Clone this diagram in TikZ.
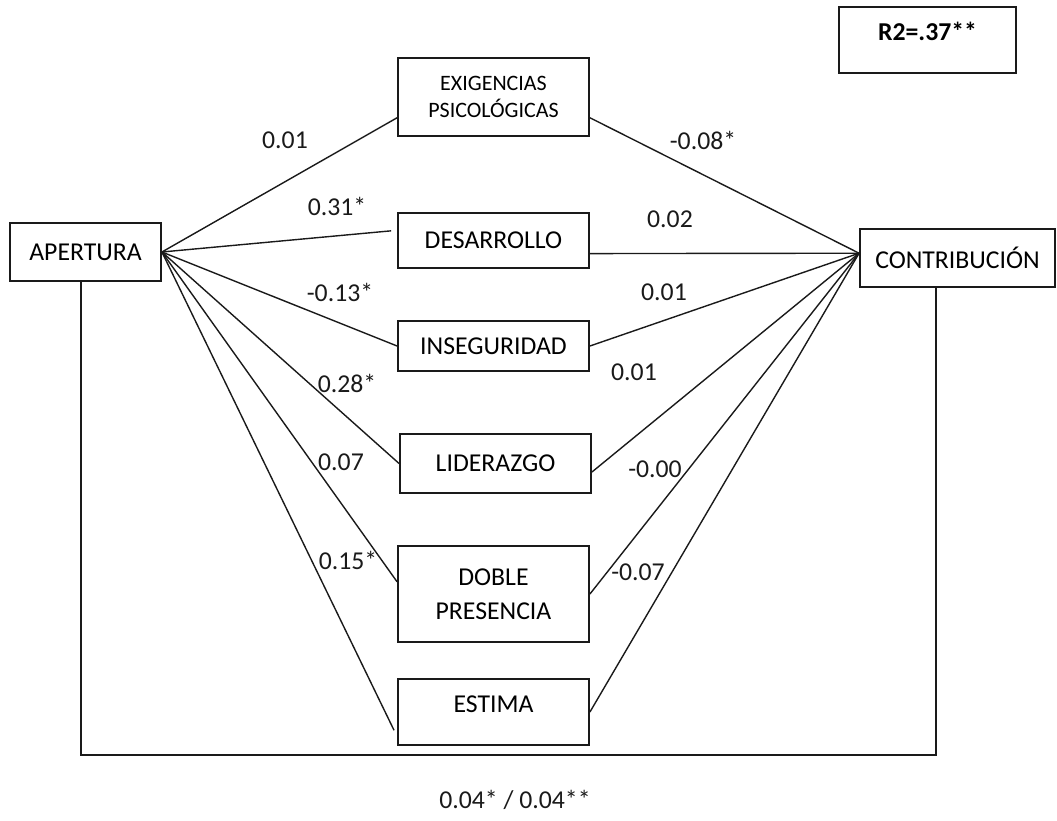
\documentclass[tikz,border=0pt]{standalone}
\usepackage{fontspec}
\setmainfont{Carlito}
\usepackage{tikz}
\usetikzlibrary{calc}
\definecolor{pathInk}{HTML}{1A1A1A}

\begin{document}
\begin{tikzpicture}[x=0.75pt,y=-0.75pt,font=\fontsize{19.3}{23}\selectfont,
  var/.style={draw=pathInk,line width=1.4pt,minimum width=143.25pt,align=center,inner sep=2pt},
  coef/.style={inner sep=1pt,text=pathInk},
  path/.style={draw=pathInk,line width=1.05pt}
]
  \useasboundingbox (0,0) rectangle (1057,821);

  % outer variables
  \node[var,minimum width=113.25pt,minimum height=43.5pt] (apertura) at (85.5,252) {APERTURA};
  \node[var,minimum width=146.25pt,minimum height=43.5pt] (contrib) at (957.5,258) {CONTRIBUCIÓN};
  \node[var,minimum width=132.75pt,minimum height=49.5pt,font=\fontsize{19.3}{23}\selectfont\bfseries,
    text height=21pt,text depth=21pt,inner ysep=3.75pt] (rsq) at (927.5,40) {R2=.37**};

  % mediators
  \node[var,minimum height=58.5pt,font=\fontsize{16.5}{20}\selectfont] (exig) at (493.5,97) {EXIGENCIAS\\PSICOLÓGICAS};
  \node[var,minimum height=41.25pt] (desa) at (493.5,240.5) {DESARROLLO};
  \node[var,minimum height=37.5pt] (inse) at (493.5,346) {INSEGURIDAD};
  \node[var,minimum height=44.25pt] (lide) at (495.5,463.5) {LIDERAZGO};
  \node[var,minimum height=72pt,font=\fontsize{19.3}{25.5}\selectfont] (dobl) at (493.5,594) {DOBLE\\PRESENCIA};
  \node[var,minimum height=49.5pt,text height=21pt,text depth=21pt,inner ysep=3.75pt] (esti) at (493.5,712) {ESTIMA};

  \coordinate (hub) at ($(contrib.south west)!.58!(contrib.north west)$);

  % a paths
  \draw[path] (apertura.east) -- ($(exig.south west)!.24!(exig.north west)$);
  \draw[path] (apertura.east) -- ($(desa.south west)!.67!(desa.north west)+(-6,0)$);
  \draw[path] (apertura.east) -- (inse.west);
  \draw[path] (apertura.east) -- (lide.west);
  \draw[path] (apertura.east) -- ($(dobl.south west)!.625!(dobl.north west)$);
  \draw[path] (apertura.east) -- ($(esti.south west)!.23!(esti.north west)+(-3,0)$);

  % b paths
  \draw[path] ($(exig.south east)!.24!(exig.north east)$) -- (hub);
  \draw[path] ($(desa.south east)!.27!(desa.north east)$) -- (hub);
  \draw[path] (inse.east) -- (hub);
  \draw[path] ($(lide.south east)!.36!(lide.north east)$) -- (hub);
  \draw[path] (dobl.east) -- (hub);
  \draw[path] (esti.east) -- (hub);

  % direct path
  \coordinate (base) at (0,755);
  \coordinate (abot) at ($(apertura.south west)!.47!(apertura.south east)$);
  \coordinate (cbot) at ($(contrib.south west)!.39!(contrib.south east)$);
  \draw[path] (abot) |- (cbot |- base) -- (cbot);

  \node[coef] (a1) at (285,140) {0.01};
  \node[coef] (a2) at (337,206) {0.31*};
  \node[coef] (a3) at (340,292) {-0.13*};
  \node[coef] (a4) at (347,383) {0.28*};
  \node[coef] (a5) at (341,462) {0.07};
  \node[coef] (a6) at (348,560) {0.15*};

  \node[coef] (b1) at (703,140) {-0.08*};
  \node[coef] (b2) at (670,219) {0.02};
  \node[coef] (b3) at (664,292) {0.01};
  \node[coef] (b4) at (634,372) {0.01};
  \node[coef] (b5) at (655,469) {-0.00};
  \node[coef] (b6) at (638,572) {-0.07};

  \node[coef] (c) at (515,800) {0.04* / 0.04**};
\end{tikzpicture}
\end{document}
